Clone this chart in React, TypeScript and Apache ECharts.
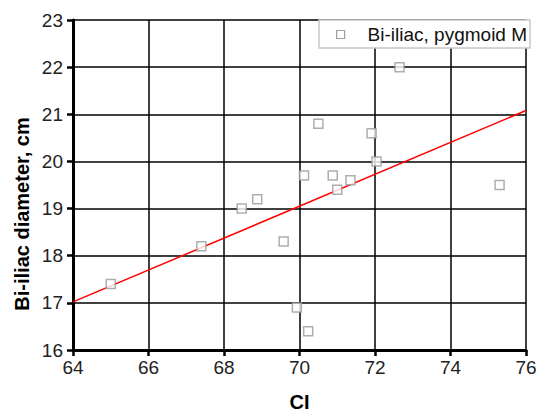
import React, { useEffect, useRef } from "react";
import * as echarts from "echarts";

const ciValues = [65.0, 67.4, 68.47, 68.88, 69.58, 69.93, 70.23, 70.12, 70.5, 70.88, 71.0, 71.35, 71.91, 72.04, 72.65, 75.3];
const diameterValues = [17.4, 18.2, 19.0, 19.2, 18.3, 16.9, 16.4, 19.7, 20.8, 19.7, 19.4, 19.6, 20.6, 20.0, 22.0, 19.5];
const fitX = [64, 76];
const fitY = [17.02, 21.08];
const seriesName = "Bi-iliac, pygmoid M";
const xName = "CI";
const yName = "Bi-iliac diameter, cm";

const FONT = "'Liberation Sans', Arial, sans-serif";

export default function App() {
  const ref = useRef<HTMLDivElement>(null);
  useEffect(() => {
    if (!ref.current) return;
    const chart = echarts.init(ref.current, null, { renderer: "svg" });
    chart.setOption({
      animation: false,
      backgroundColor: "#fff",
      grid: { left: 73, right: 14, top: 20, bottom: 59, containLabel: false },
      xAxis: {
        type: "value",
        position: "bottom",
        min: 64,
        max: 76,
        interval: 2,
        axisLine: { show: true, onZero: false, lineStyle: { color: "#000", width: 3 } },
        axisTick: { show: true, inside: false, length: 6, lineStyle: { color: "#000", width: 2.5 } },
        splitLine: { show: true, lineStyle: { color: "#000", width: 1.5 } },
        axisLabel: { show: true, color: "#222", fontSize: 19, fontFamily: FONT, margin: 8 },
        name: xName,
        nameLocation: "middle",
        nameGap: 42,
        nameTextStyle: { color: "#000", fontSize: 20, fontWeight: "bold", fontFamily: FONT },
      },
      yAxis: {
        type: "value",
        position: "left",
        min: 16,
        max: 23,
        interval: 1,
        axisLine: { show: true, onZero: false, lineStyle: { color: "#000", width: 3 } },
        axisTick: { show: true, inside: false, length: 6, lineStyle: { color: "#000", width: 2.5 } },
        splitLine: { show: true, lineStyle: { color: "#000", width: 1.5 } },
        axisLabel: { show: true, color: "#222", fontSize: 19, fontFamily: FONT, margin: 10 },
      },
      legend: {
        show: true,
        data: [seriesName],
        left: 319,
        top: 20,
        orient: "vertical",
        padding: [5, 3, 4, 17],
        backgroundColor: "#fff",
        borderColor: "#c8c8c8",
        borderWidth: 1.5,
        itemWidth: 8,
        itemHeight: 8,
        icon: "rect",
        itemStyle: { color: "#fff", borderColor: "#888", borderWidth: 1.2 },
        textStyle: { color: "#111", fontSize: 19, fontFamily: FONT, padding: [0, 0, 0, 18] },
      },
      graphic: [
        {
          type: "text",
          x: 21.5,
          y: 214,
          rotation: Math.PI / 2,
          style: {
            text: yName,
            fill: "#000",
            font: `bold 20px ${FONT}`,
            textAlign: "center",
            textVerticalAlign: "middle",
          },
        },
      ],
      series: [
        {
          name: "fit",
          type: "line",
          clip: false,
          data: fitX.map((x, i) => [x, fitY[i]]),
          symbol: "none",
          lineStyle: { color: "#ff0000", width: 1.5 },
          z: 3,
        },
        {
          name: seriesName,
          type: "scatter",
          clip: false,
          data: ciValues.map((x, i) => [x, diameterValues[i]]),
          symbol: "rect",
          symbolSize: 9,
          itemStyle: { color: "#fff", borderColor: "#9a9a9a", borderWidth: 1.5 },
          z: 4,
        },
      ],
    });
    return () => chart.dispose();
  }, []);
  return (
    <div
      ref={ref}
      style={{ position: "fixed", left: 0, top: 0, width: 540, height: 417 }}
    />
  );
}
